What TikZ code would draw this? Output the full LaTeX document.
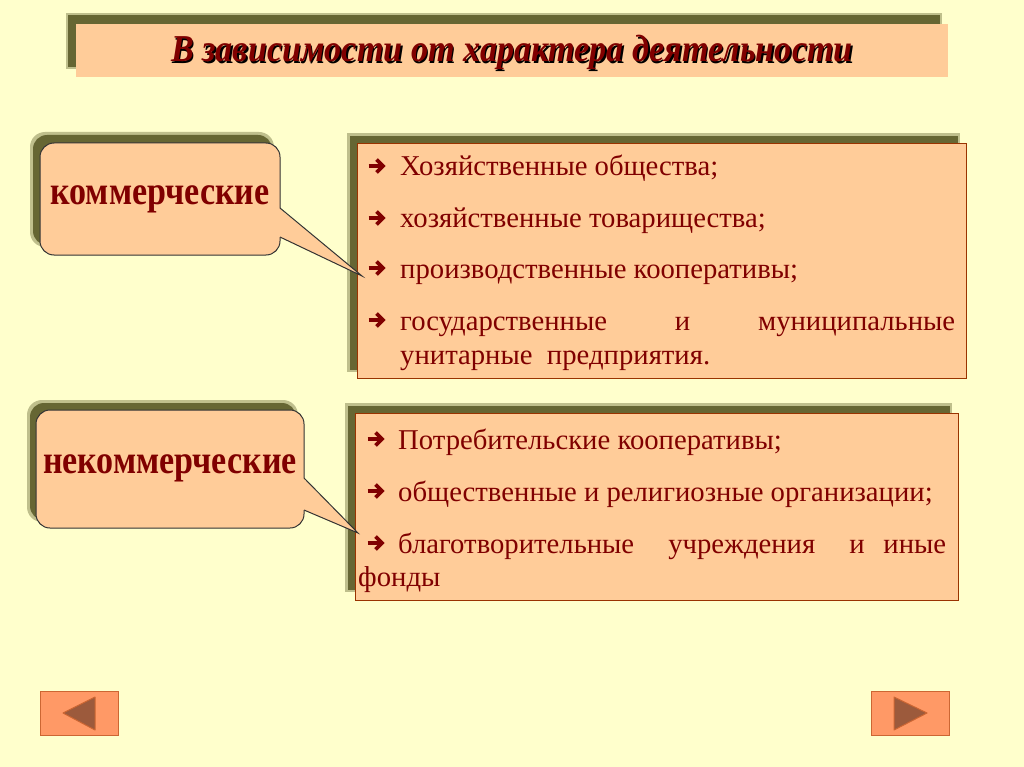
\documentclass[tikz,border=0pt]{standalone}
\usepackage{fontspec}
\setmainfont{Liberation Serif}
\newfontfamily\bodyfont{Liberation Serif}
\newfontfamily\labfont[FakeStretch=0.85]{Liberation Serif}
\newfontfamily\ttlfont[FakeStretch=0.9]{Liberation Serif}
\definecolor{bg}{HTML}{FFFFCC}
\definecolor{peach}{HTML}{FFCC99}
\definecolor{olive}{HTML}{666633}
\definecolor{rim}{HTML}{BFBF8C}
\definecolor{dred}{HTML}{800000}
\definecolor{bord}{HTML}{993300}
\definecolor{navfill}{HTML}{FF9966}
\definecolor{navbord}{HTML}{CC6633}
\definecolor{trifill}{HTML}{9C5A3C}
\tikzset{
  rimbox/.style={fill=rim},
  shadowbox/.style={fill=olive},
  frontbox/.style={fill=peach, draw=bord, line width=0.8pt},
  calloutbox/.style={fill=peach, draw=black!80, line width=1pt, rounded corners=14pt},
  calshadow/.style={fill=olive, rounded corners=14pt},
  calrim/.style={fill=rim, rounded corners=15pt},
  item/.style={anchor=base west, inner sep=0pt, text=dred, font=\bodyfont\fontsize{28.7}{30}\selectfont},
  lab/.style={text=dred, inner sep=0pt, font=\labfont\bfseries\fontsize{40}{42}\selectfont},
  ttl/.style={anchor=base, font=\ttlfont\bfseries\itshape\fontsize{38}{40}\selectfont},
  navbtn/.style={fill=navfill, draw=navbord, line width=1pt},
  navtri/.style={fill=trifill, draw=navbord, line width=1pt, line join=round},
  bularrow/.pic={
    \draw[dred, line width=3.8pt, line cap=butt] (-8.5,0) -- (5,0);
    \draw[dred, line width=3.6pt, line cap=butt, line join=miter, miter limit=4] (-0.5,-6.5) -- (6,0) -- (-0.5,6.5);
  }
}
\begin{document}
\begin{tikzpicture}[x=1pt,y=-1pt]
\useasboundingbox[fill=bg] (0,0) rectangle (1024,767);
% title
\fill[rimbox] (66,13) rectangle (942,69);
\fill[shadowbox] (68,15) rectangle (940,67);
\fill[peach] (76,24) rectangle (948,77);
\node[ttl, text=black] at (513.5,63.5) {В зависимости от характера деятельности};
\node (title) [ttl, text=dred] at (512,62) {В зависимости от характера деятельности};
% box 1
\fill[rimbox] (347,133) rectangle (960,372);
\fill[shadowbox] (350,136) rectangle (958,370);
\draw[frontbox] (357,143) rectangle (966,378);
\pic (b1) at (377,166) {bularrow};
\node (i1) [item] at (400,176) {Хозяйственные общества;};
\pic (b2) at (377,218) {bularrow};
\node (i2) [item] at (400,228) {хозяйственные товарищества;};
\pic (b3) at (377,268) {bularrow};
\node (i3) [item] at (400,278) {производственные кооперативы;};
\pic (b4) at (377,320) {bularrow};
\node (i4) [item] at (400,330) {\hbox to 555pt{государственные\hfill и\hfill муниципальные}};
\node (i5) [item] at (400,364) {унитарные\ \ предприятия.};
% box 2
\fill[rimbox] (345,403) rectangle (952,592);
\fill[shadowbox] (348,406) rectangle (950,590);
\draw[frontbox] (355,413) rectangle (958,600);
\pic (c1) at (376,439) {bularrow};
\node (j1) [item] at (398,449) {Потребительские кооперативы;};
\pic (c2) at (376,491) {bularrow};
\node (j2) [item] at (398,501) {общественные и религиозные организации;};
\pic (c3) at (376,543) {bularrow};
\node (j3) [item] at (398,553) {\hbox to 548pt{благотворительные\hfill учреждения\hfill и\hskip 0pt plus 0.55fill иные}};
\node (j4) [item] at (358,586) {фонды};
% callout 1
\fill[calrim] (30,132) rectangle (274,247);
\fill[calshadow] (33,135) rectangle (272,245);
\draw[calloutbox] (40,143) rectangle (280,255);
\fill[peach] (279,208) -- (362,276) -- (279,237) -- cycle;
\draw[black!80, line width=1pt, line join=miter] (280,208) -- (362,276) -- (280,237);
\node (com) [lab] at (160,199) {коммерческие};
% callout 2
\fill[calrim] (27,400) rectangle (298,522);
\fill[calshadow] (30,403) rectangle (296,520);
\draw[calloutbox] (36,410) rectangle (304,528);
\fill[peach] (303,478) -- (358,533) -- (303,510) -- cycle;
\draw[black!80, line width=1pt, line join=miter] (304,478) -- (358,533) -- (304,510);
\node (ncom) [lab] at (170,468) {некоммерческие};
% navigation
\draw[navbtn] (40,691) rectangle (118,735);
\draw[navtri] (63,713) -- (95,697) -- (95,730) -- cycle;
\draw[navbtn] (871,691) rectangle (949,735);
\draw[navtri] (927,713) -- (894,697) -- (894,730) -- cycle;
\end{tikzpicture}
\end{document}
